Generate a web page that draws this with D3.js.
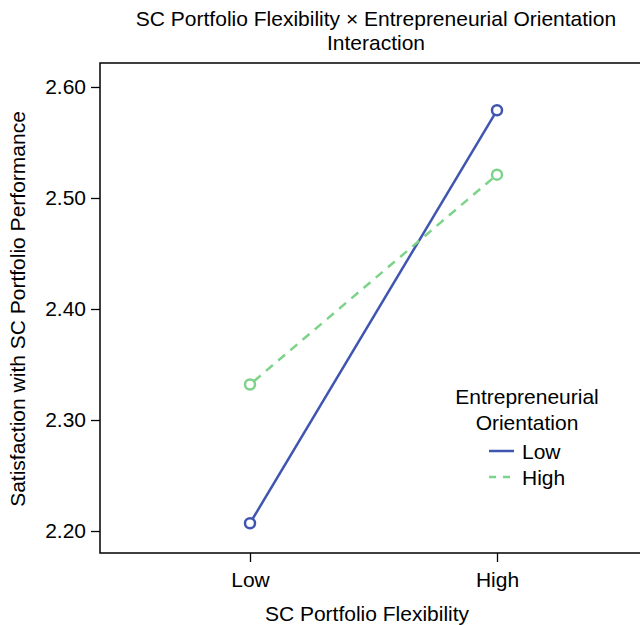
<!doctype html>
<html>
  <head>
    <script src="https://cdnjs.cloudflare.com/ajax/libs/d3/7.8.5/d3.min.js"></script>
    <style>
      body { margin: 0; background: #fff; }
      text { font-family: "Liberation Sans", Arial, sans-serif; fill: #000; }
      .axis path, .axis line { stroke: #000; stroke-width: 1.3; }
      .axis text { font-size: 21px; }
    </style>
  </head>
  <body>
    <svg width="640" height="625"></svg>
    <script>
      var levels = ["Low", "High"];
      var lowEO = [2.207, 2.579];
      var highEO = [2.332, 2.521];
      var yTicks = [2.20, 2.30, 2.40, 2.50, 2.60];
      var seriesNames = ["Low", "High"];
      var seriesColors = ["#3F55B0", "#7DD38A"];

      var svg = d3.select("svg");
      var plotLeft = 100, plotTop = 63, plotBottom = 553;

      var x = d3.scalePoint().domain(levels).range([250, 497]);
      var y = d3.scaleLinear().domain([2.1802, 2.6216]).range([plotBottom, plotTop]);

      // frame (right side runs off the picture)
      svg.append("path")
        .attr("d", "M640," + plotTop + "H" + plotLeft + "V" + plotBottom + "H640")
        .attr("fill", "none").attr("stroke", "#000").attr("stroke-width", 1.5);

      svg.append("g").attr("class", "axis")
        .attr("transform", "translate(" + plotLeft + ",0)")
        .call(d3.axisLeft(y).tickValues(yTicks).tickFormat(d3.format(".2f")).tickSize(9).tickPadding(5))
        .call(g => g.select(".domain").remove());

      svg.append("g").attr("class", "axis")
        .attr("transform", "translate(0," + plotBottom + ")")
        .call(d3.axisBottom(x).tickSize(9).tickPadding(10))
        .call(g => g.select(".domain").remove());

      var series = [lowEO, highEO];
      var r = 5;
      series.forEach(function (vals, i) {
        var pts = vals.map((v, j) => [x(levels[j]), y(v)]);
        var dx = pts[1][0] - pts[0][0], dy = pts[1][1] - pts[0][1];
        var len = Math.sqrt(dx * dx + dy * dy);
        var ux = dx / len, uy = dy / len;
        svg.append("line")
          .attr("x1", pts[0][0] + ux * r).attr("y1", pts[0][1] + uy * r)
          .attr("x2", pts[1][0] - ux * r).attr("y2", pts[1][1] - uy * r)
          .attr("stroke", seriesColors[i]).attr("stroke-width", 2.5)
          .attr("stroke-dasharray", i === 1 ? "9,7" : null);
        svg.selectAll(null).data(pts).enter().append("circle")
          .attr("cx", d => d[0]).attr("cy", d => d[1]).attr("r", r)
          .attr("fill", "none").attr("stroke", seriesColors[i]).attr("stroke-width", 2.5);
      });

      // title
      svg.append("text").attr("x", 376).attr("y", 26).attr("text-anchor", "middle")
        .style("font-size", "21px").text("SC Portfolio Flexibility \u00d7 Entrepreneurial Orientation");
      svg.append("text").attr("x", 376).attr("y", 50).attr("text-anchor", "middle")
        .style("font-size", "21px").text("Interaction");

      // axis titles
      svg.append("text").attr("x", 367).attr("y", 621).attr("text-anchor", "middle")
        .style("font-size", "21px").text("SC Portfolio Flexibility");
      svg.append("text").attr("transform", "translate(25,309) rotate(-90)").attr("text-anchor", "middle")
        .style("font-size", "21px").text("Satisfaction with SC Portfolio Performance");

      // legend
      var lg = svg.append("g");
      lg.append("text").attr("x", 527).attr("y", 404).attr("text-anchor", "middle")
        .style("font-size", "21px").text("Entrepreneurial");
      lg.append("text").attr("x", 527).attr("y", 430).attr("text-anchor", "middle")
        .style("font-size", "21px").text("Orientation");
      seriesNames.forEach(function (name, i) {
        var ly = 451 + i * 26;
        lg.append("line").attr("x1", 489).attr("x2", 514).attr("y1", ly).attr("y2", ly)
          .attr("stroke", seriesColors[i]).attr("stroke-width", 2.5)
          .attr("stroke-dasharray", i === 1 ? "7,7" : null);
        lg.append("text").attr("x", 522).attr("y", ly + 7.5)
          .style("font-size", "21px").text(name);
      });
    </script>
  </body>
</html>
